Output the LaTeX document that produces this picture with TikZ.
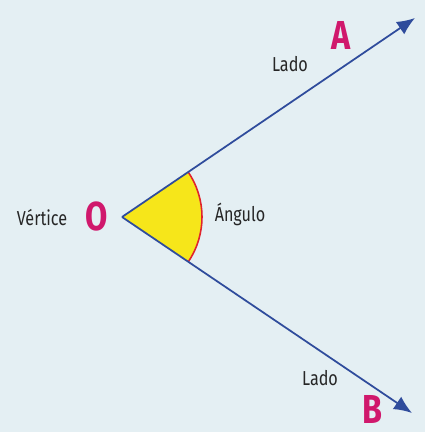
\documentclass[tikz,border=0pt]{standalone}
\usepackage{fontspec}
\setmainfont[FakeStretch=0.8]{Fira Sans}
\usepackage{xcolor}
\usetikzlibrary{arrows.meta, positioning, calc}

\definecolor{bgblue}{HTML}{E4EFF3}
\definecolor{rayblue}{HTML}{2F4C9C}
\definecolor{ptpink}{HTML}{D0186C}
\definecolor{sectyellow}{HTML}{F6E61A}
\definecolor{arcred}{HTML}{E0242C}

\begin{document}
\begin{tikzpicture}[
  font=\small,
  lbl/.style={text=black!85, font=\fontsize{11.5}{12}\selectfont},
  pt/.style={text=ptpink, font=\fontsize{23}{24}\selectfont\bfseries},
  ray/.style={-{Latex[length=3.6mm, width=3mm]}, rayblue, line width=1pt},
  ]
  %% Background and bounding box
  \fill[bgblue] (0,0) rectangle (8.5,8.64);
  \useasboundingbox (0,0) rectangle (8.5,8.64);

  %% Vertex and ray ends
  \coordinate (O) at (2.44, 4.30);
  \coordinate (a) at (8.30, 8.28);
  \coordinate (b) at (8.24, 0.38);

  %% Angle sector
  \fill[sectyellow] (O) -- ++(34.2:1.6) arc[start angle=34.2, end angle=-34.0, radius=1.6] -- cycle;
  \draw[arcred, line width=0.9pt] ($(O)+(34.2:1.6)$) arc[start angle=34.2, end angle=-34.0, radius=1.6];

  %% Rays
  \draw[ray] (O) -- (a);
  \draw[ray] (O) -- (b);

  %% Labels
  \node[pt]  (oname)   at (1.94, 4.30) {O};
  \node[lbl] (vertice) at (0.84, 4.28) {Vértice};
  \node[lbl] (angulo)  at (4.80, 4.36) {Ángulo};
  \node[pt]  (aname)   at (6.82, 7.92) {A};
  \node[lbl] (ladoa)   at (5.80, 7.36) {Lado};
  \node[pt, inner sep=1pt] (bname) at (7.44, 0.46) {B};
  \node[lbl] (ladob)   at (6.40, 1.08) {Lado};
\end{tikzpicture}
\end{document}
